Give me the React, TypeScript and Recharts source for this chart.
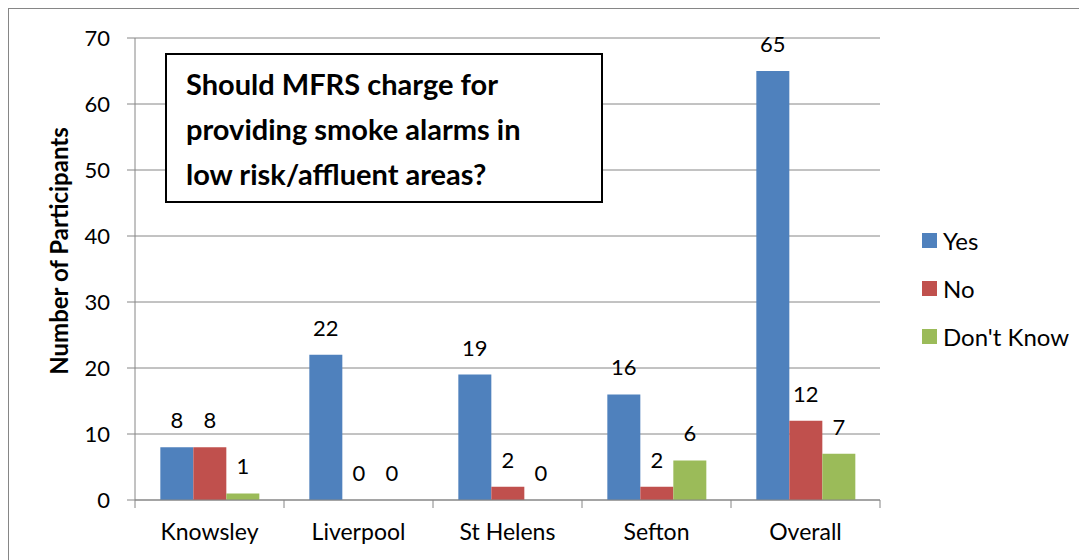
import { BarChart, Bar, XAxis, YAxis, CartesianGrid, LabelList } from 'recharts';

const categories = ['Knowsley', 'Liverpool', 'St Helens', 'Sefton', 'Overall'];
const yesValues = [8, 22, 19, 16, 65];
const noValues = [8, 0, 2, 2, 12];
const dontKnowValues = [1, 0, 0, 6, 7];
const yTicks = [0, 10, 20, 30, 40, 50, 60, 70];

const series = [
  { key: 'yes', name: 'Yes', color: '#4F81BD' },
  { key: 'no', name: 'No', color: '#C0504D' },
  { key: 'dontKnow', name: "Don't Know", color: '#9BBB59' },
];

const data = categories.map((name, i) => ({
  name,
  yes: yesValues[i],
  no: noValues[i],
  dontKnow: dontKnowValues[i],
}));

const FONT = 'Lato, "Noto Sans", sans-serif';
const GRID = '#868686';
const W = 1078;
const H = 551;
const margin = { top: 29, right: 207, bottom: 0, left: 0 };
const yAxisWidth = 126;
const step = (W - margin.left - margin.right - yAxisWidth) / categories.length;

function CategoryTick(props: any) {
  const { x, y, payload, index } = props;
  const isLast = index === categories.length - 1;
  return (
    <g>
      <line x1={x - step / 2} y1={y - 8} x2={x - step / 2} y2={y} stroke={GRID} strokeWidth={1} />
      {isLast && <line x1={x + step / 2} y1={y - 8} x2={x + step / 2} y2={y} stroke={GRID} strokeWidth={1} />}
      <text x={x} y={y + 32} textAnchor="middle" fontSize={23} fontFamily={FONT} fill="#000">
        {payload.value}
      </text>
    </g>
  );
}

function ValueLabel(props: any) {
  const { x, y, width, value } = props;
  return (
    <text x={x + width / 2} y={y - 19} textAnchor="middle" fontSize={22} fontFamily={FONT} fill="#000">
      {value}
    </text>
  );
}

// zero values still get a (practically invisible) bar so their "0" label is drawn
const zeroPointSize = (value: number) => (value === 0 ? 0.01 : 0);

export default function App() {
  return (
    <div
      style={{
        position: 'relative',
        width: W,
        height: H,
        borderLeft: '1px solid #868686',
        borderTop: '1px solid #868686',
        background: '#fff',
      }}
    >
      <BarChart width={W} height={H} data={data} margin={margin} barCategoryGap="17%" barGap={0}>
        <CartesianGrid vertical={false} stroke={GRID} strokeWidth={1} />
        <XAxis
          dataKey="name"
          height={60}
          axisLine={{ stroke: GRID }}
          tickLine={false}
          tick={<CategoryTick />}
          interval={0}
        />
        <YAxis
          width={yAxisWidth}
          domain={[0, 70]}
          ticks={yTicks}
          tickSize={8}
          tickMargin={17}
          axisLine={{ stroke: GRID }}
          tickLine={{ stroke: GRID }}
          tick={{ fontSize: 22, fontFamily: FONT, fill: '#000' }}
          label={{
            value: 'Number of Participants',
            angle: -90,
            position: 'center',
            dx: -13,
            dy: -18,
            style: { fontSize: 24, fontWeight: 700, fontFamily: FONT, fill: '#000' },
          }}
        />
        {series.map((s) => (
          <Bar
            key={s.key}
            dataKey={s.key}
            name={s.name}
            fill={s.color}
            minPointSize={zeroPointSize}
            isAnimationActive={false}
          >
            <LabelList dataKey={s.key} content={<ValueLabel />} />
          </Bar>
        ))}
      </BarChart>
      <div
        style={{
          position: 'absolute',
          left: 913,
          top: 207,
          fontFamily: FONT,
          fontSize: 24,
          color: '#000',
        }}
      >
        {series.map((s) => (
          <div key={s.key} style={{ display: 'flex', alignItems: 'center', height: 48 }}>
            <div style={{ width: 15, height: 15, background: s.color, marginRight: 6 }} />
            <span>{s.name}</span>
          </div>
        ))}
      </div>
      <div
        style={{
          position: 'absolute',
          left: 156,
          top: 44,
          width: 415,
          height: 140,
          border: '2px solid #000',
          background: '#fff',
          boxSizing: 'content-box',
          fontFamily: FONT,
          fontWeight: 700,
          fontSize: 29,
          lineHeight: '45px',
          padding: '6px 0 0 19px',
          color: '#000',
          whiteSpace: 'nowrap',
        }}
      >
        Should MFRS charge for
        <br />
        providing smoke alarms in
        <br />
        low risk/affluent areas?
      </div>
    </div>
  );
}
